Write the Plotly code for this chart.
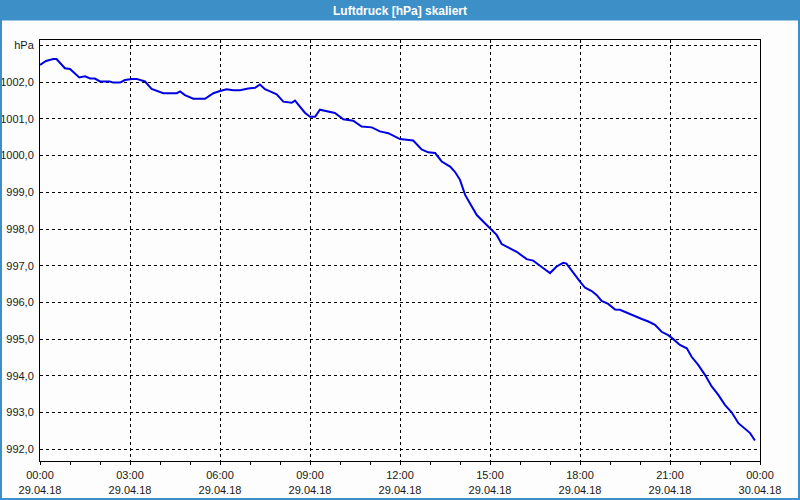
import plotly.graph_objects as go

# Data: hours since 29.04.18 00:00 and air pressure [hPa]
hours = [0.00, 0.20, 0.44, 0.55, 0.83, 1.00, 1.31, 1.50, 1.67, 1.83, 2.00, 2.33, 2.44, 2.67, 2.83,
         3.06, 3.22, 3.50, 3.72, 4.00, 4.11, 4.56, 4.67, 4.83, 5.11, 5.50, 5.78, 6.00, 6.22, 6.44,
         6.67, 6.94, 7.17, 7.33, 7.50, 7.67, 7.89, 8.11, 8.39, 8.50, 8.67, 8.83, 9.00, 9.17, 9.33,
         9.56, 9.83, 10.11, 10.44, 10.72, 11.06, 11.33, 11.61, 12.00, 12.44, 12.72, 12.94, 13.17,
         13.39, 13.67, 13.83, 14.00, 14.17, 14.33, 14.56, 14.78, 15.00, 15.22, 15.39, 15.61, 15.89,
         16.22, 16.44, 16.78, 17.00, 17.22, 17.44, 17.55, 17.78, 18.00, 18.17, 18.39, 18.56, 18.72,
         18.94, 19.17, 19.33, 19.56, 19.78, 20.06, 20.28, 20.50, 20.72, 20.94, 21.11, 21.33, 21.56,
         21.72, 21.94, 22.17, 22.39, 22.61, 22.83, 23.06, 23.28, 23.50, 23.67, 23.83]
pressure = [1002.47, 1002.58, 1002.63, 1002.63, 1002.38, 1002.36, 1002.13, 1002.16, 1002.10, 1002.10,
            1002.02, 1002.02, 1001.99, 1001.99, 1002.06, 1002.09, 1002.09, 1002.02, 1001.82, 1001.74,
            1001.70, 1001.70, 1001.75, 1001.65, 1001.55, 1001.55, 1001.70, 1001.76, 1001.81, 1001.78,
            1001.78, 1001.83, 1001.85, 1001.94, 1001.81, 1001.75, 1001.67, 1001.47, 1001.44, 1001.50,
            1001.34, 1001.17, 1001.06, 1001.06, 1001.25, 1001.20, 1001.16, 1000.99, 1000.95, 1000.79,
            1000.77, 1000.66, 1000.61, 1000.45, 1000.41, 1000.17, 1000.09, 1000.07, 999.84, 999.70,
            999.56, 999.34, 998.93, 998.70, 998.38, 998.20, 998.02, 997.84, 997.59, 997.50,
            997.38, 997.18, 997.14, 996.93, 996.80, 996.98, 997.08, 997.06, 996.80, 996.57,
            996.40, 996.31, 996.20, 996.04, 995.96, 995.81, 995.80, 995.72, 995.63, 995.55,
            995.48, 995.39, 995.20, 995.11, 995.00, 994.84, 994.75, 994.52, 994.30, 994.02,
            993.71, 993.48, 993.21, 993.00, 992.71, 992.55, 992.44, 992.24]

x_tickvals = [0, 3, 6, 9, 12, 15, 18, 21, 24]
x_ticktext = ["00:00<br>29.04.18", "03:00<br>29.04.18", "06:00<br>29.04.18", "09:00<br>29.04.18",
              "12:00<br>29.04.18", "15:00<br>29.04.18", "18:00<br>29.04.18", "21:00<br>29.04.18",
              "00:00<br>30.04.18"]
y_tickvals = [992, 993, 994, 995, 996, 997, 998, 999, 1000, 1001, 1002, 1003]
y_ticktext = ["992,0", "993,0", "994,0", "995,0", "996,0", "997,0", "998,0", "999,0",
              "1000,0", "1001,0", "1002,0", "hPa"]
title_text = "Luftdruck [hPa] skaliert"

W, H = 800, 500
ML, MR, MT, MB = 40, 40, 40, 39
PW, PH = W - ML - MR, H - MT - MB
BLUE = "#3d8fc7"
BG = "#fcfdfc"

fig = go.Figure()
fig.add_trace(go.Scatter(x=hours, y=pressure, mode="lines",
                         line=dict(color="#0000e0", width=2), hoverinfo="skip"))

font = dict(family="Liberation Sans, Arial, sans-serif", size=11, color="#1a1a1a")

fig.update_layout(
    width=W, height=H,
    margin=dict(l=ML, r=MR, t=MT, b=MB, pad=0, autoexpand=False),
    paper_bgcolor=BG, plot_bgcolor=BG,
    showlegend=False,
    font=font,
    xaxis=dict(range=[0, 24], tickvals=x_tickvals, ticktext=x_ticktext,
               showline=True, mirror=True, linecolor="black", linewidth=1,
               showgrid=True, gridcolor="black", gridwidth=1, griddash="3px,3px",
               ticks="outside", ticklen=3, tickcolor="black", ticklabelstandoff=1,
               minor=dict(dtick=1, tick0=0, ticks="outside", ticklen=3, tickcolor="black", showgrid=False),
               zeroline=False, fixedrange=True, automargin=False),
    yaxis=dict(range=[991.68, 1003.15], tickvals=y_tickvals, ticktext=y_ticktext,
               showline=True, mirror=True, linecolor="black", linewidth=1,
               showgrid=True, gridcolor="black", gridwidth=1, griddash="3px,3px",
               ticks="", ticklabelstandoff=3,
               zeroline=False, fixedrange=True, automargin=False),
    shapes=[
        dict(type="rect", xref="paper", yref="paper",
             x0=-ML / PW, x1=1 + MR / PW, y0=1 + (MT - 20.5) / PH, y1=1 + MT / PH,
             fillcolor=BLUE, line=dict(width=0), layer="above"),
        dict(type="rect", xref="paper", yref="paper",
             x0=(-ML + 1) / PW, x1=1 + (MR - 1) / PW, y0=(-MB + 1) / PH, y1=1 + MT / PH,
             fillcolor="rgba(0,0,0,0)", line=dict(color=BLUE, width=2), layer="above"),
    ],
    annotations=[
        dict(text="<b>" + title_text + "</b>", xref="paper", yref="paper",
             x=0.5, y=1 + (MT - 10.5) / PH, xanchor="center", yanchor="middle",
             showarrow=False, font=dict(family="Liberation Sans, Arial, sans-serif", size=12, color="white")),
    ],
)

fig.write_html("out.html", config={"displayModeBar": False})
